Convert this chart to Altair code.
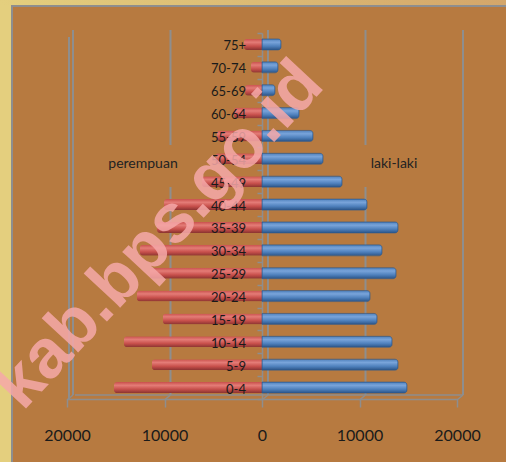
import altair as alt
import pandas as pd

# ---- data ----
ages = ["0-4", "5-9", "10-14", "15-19", "20-24", "25-29", "30-34", "35-39",
        "40-44", "45-49", "50-54", "55-59", "60-64", "65-69", "70-74", "75+"]
laki_laki = [14870, 13950, 13340, 11800, 11080, 13750, 12310, 13950,
             10770, 8210, 6260, 5230, 3800, 1330, 1640, 1950]
perempuan = [15180, 11290, 14160, 10160, 12830, 11490, 12520, 10770,
             10050, 6160, 4800, 4620, 2870, 1740, 1130, 1850]
x_ticks = [-20000, -10000, 0, 10000, 20000]

rows = []
for a, l, p in zip(ages, laki_laki, perempuan):
    rows.append({"age": a, "sex": "laki-laki", "value": l})
    rows.append({"age": a, "sex": "perempuan", "value": -p})
df = pd.DataFrame(rows)
df_m = df[df.sex == "laki-laki"]
df_f = df[df.sex == "perempuan"]
ticks_df = pd.DataFrame({"value": x_ticks})
one = alt.Data(values=[{}])

order = ages[::-1]
xscale = alt.Scale(domain=[-20000, 20000])
yscale = alt.Scale(domain=order, paddingInner=0, paddingOuter=0)
GRAY = "#8E8E8E"
BG = "#B77A40"
FONT = "Lato"

x_axis = alt.Axis(values=x_ticks, orient="bottom", grid=False,
                  domainColor=GRAY, domainWidth=1.5, tickColor=GRAY,
                  tickWidth=1.5, tickSize=8, labelPadding=20,
                  labelFont=FONT, labelFontSize=16, labelColor="#1A1A1A",
                  labelExpr="format(abs(datum.value), 'd')", title=None,
                  labelFlush=False)
y_axis = alt.Axis(orient="left", offset=-195, labels=False, title=None,
                  domainColor=GRAY, domainWidth=1.5, tickColor=GRAY,
                  tickWidth=1.5, tickSize=5, tickBand="extent", grid=False)

X = alt.X("value:Q", scale=xscale, axis=x_axis)
Y = alt.Y("age:N", scale=yscale, sort=order, axis=y_axis)

# decorative page frame
left_strip = alt.Chart(one).mark_rect(color="#E4CF7E").encode(
    x=alt.value(-67), x2=alt.value(-56), y=alt.value(-33), y2=alt.value(429))
top_strip = alt.Chart(one).mark_rect(
    color=alt.LinearGradient(gradient="linear", x1=0, y1=0, x2=1, y2=0,
                             stops=[alt.GradientStop(color="#E4CF7E", offset=0),
                                    alt.GradientStop(color="#D4A66A", offset=1)])
).encode(x=alt.value(-67), x2=alt.value(439), y=alt.value(-33), y2=alt.value(-28))
frame_v = alt.Chart(one).mark_rect(color=GRAY).encode(
    x=alt.value(-56), x2=alt.value(-54), y=alt.value(-28), y2=alt.value(429))
frame_h = alt.Chart(one).mark_rect(color=GRAY).encode(
    x=alt.value(-56), x2=alt.value(439), y=alt.value(-28), y2=alt.value(-26))

# back-wall gridlines
grid = alt.Chart(ticks_df).mark_rule(color=GRAY, strokeWidth=2, xOffset=6).encode(
    x=X, y=alt.value(-3), y2=alt.value(362))
wall = alt.Chart(pd.DataFrame({"value": [-20000]})).mark_rule(
    color=GRAY, strokeWidth=2, xOffset=2).encode(
    x=X, y=alt.value(4), y2=alt.value(367))
floor_back = alt.Chart(one).mark_rule(color=GRAY, strokeWidth=1.5).encode(
    x=alt.value(8), x2=alt.value(396), y=alt.value(362))
floor_slant = alt.Chart(ticks_df).mark_rule(
    color=GRAY, strokeWidth=1.5, xOffset=6, x2Offset=0).encode(
    x=X, x2="value:Q", y=alt.value(362), y2=alt.value(367))

# boxes behind the legend texts (hide the gridlines there)
box_l = alt.Chart(one).mark_rect(color=BG).encode(
    x=alt.value(33), x2=alt.value(119), y=alt.value(112), y2=alt.value(154))
box_r = alt.Chart(one).mark_rect(color=BG).encode(
    x=alt.value(288), x2=alt.value(363), y=alt.value(112), y2=alt.value(154))

red_grad = alt.LinearGradient(gradient="linear", x1=0, y1=0, x2=0, y2=1, stops=[
    alt.GradientStop(color="#C9504C", offset=0),
    alt.GradientStop(color="#E47C77", offset=0.3),
    alt.GradientStop(color="#C8504C", offset=0.65),
    alt.GradientStop(color="#8A3330", offset=1)])
blue_grad = alt.LinearGradient(gradient="linear", x1=0, y1=0, x2=0, y2=1, stops=[
    alt.GradientStop(color="#4F81BD", offset=0),
    alt.GradientStop(color="#79A4DA", offset=0.3),
    alt.GradientStop(color="#4F81BD", offset=0.65),
    alt.GradientStop(color="#2B5487", offset=1)])

bars_f = alt.Chart(df_f).mark_bar(color=red_grad, size=11, cornerRadiusTopLeft=3,
                                  cornerRadiusBottomLeft=3).encode(x=X, y=Y)
bars_m = alt.Chart(df_m).mark_bar(color=blue_grad, size=11, cornerRadiusTopRight=3,
                                  cornerRadiusBottomRight=3, stroke="#2F5A8E",
                                  strokeWidth=0.6).encode(x=X, y=Y)

labels = alt.Chart(pd.DataFrame({"age": ages})).mark_text(
    align="right", baseline="middle", dy=2, font=FONT, fontSize=13, color="#1A1A1A"
).encode(x=alt.value(179), y=Y, text="age:N")

leg_f = alt.Chart(one).mark_text(
    text="perempuan", align="center", baseline="middle", font=FONT, fontSize=14,
    color="#222222").encode(x=alt.value(76), y=alt.value(131))
leg_m = alt.Chart(one).mark_text(
    text="laki-laki", align="center", baseline="middle", font=FONT, fontSize=14,
    color="#222222").encode(x=alt.value(327), y=alt.value(131))

watermark = alt.Chart(one).mark_text(
    text="kab.bps.go.id", angle=313, align="center", baseline="middle",
    font="Liberation Sans", fontWeight="bold", fontSize=69,
    color="#F6A9A9", opacity=0.85
).encode(x=alt.value(92), y=alt.value(202))

chart = alt.layer(
    left_strip, top_strip, frame_v, frame_h,
    grid, wall, floor_back, floor_slant, box_l, box_r,
    bars_f, bars_m, labels, leg_f, leg_m, watermark
).properties(
    width=390, height=366, background=BG,
    padding={"left": 67, "top": 33, "right": 49, "bottom": 63},
    autosize=alt.AutoSizeParams(type="none")
).configure_view(stroke=None)

chart.save("out.html", embed_options={"renderer": "svg", "actions": False})
